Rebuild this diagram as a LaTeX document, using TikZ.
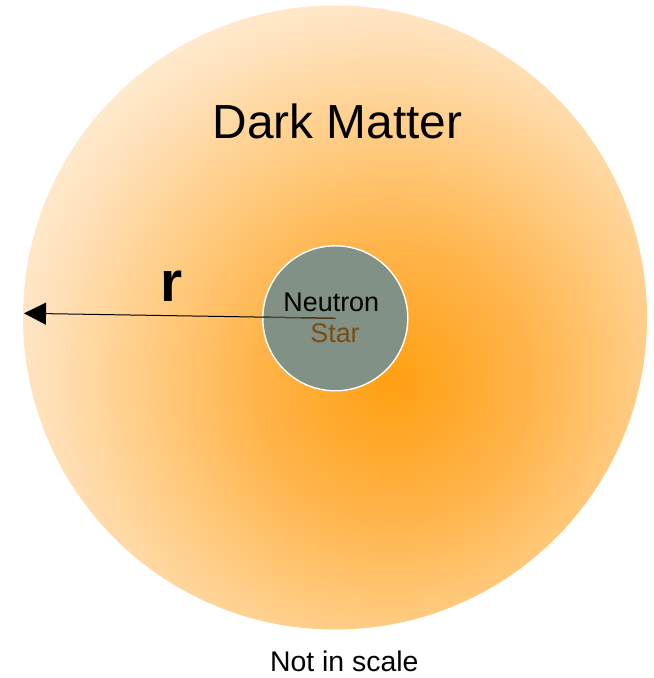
\documentclass[tikz,border=0pt]{standalone}
\usepackage{fontspec}
\setmainfont{Liberation Sans}
\usetikzlibrary{arrows.meta,calc}
\definecolor{gA}{RGB}{255,160,18}
\definecolor{gB}{RGB}{255,180,74}
\definecolor{gC}{RGB}{255,202,126}
\definecolor{gD}{RGB}{255,227,191}
\definecolor{gE}{RGB}{255,234,206}
\definecolor{nsgray}{RGB}{129,145,134}
\definecolor{starbrown}{RGB}{122,76,18}
\definecolor{linebrown}{RGB}{100,62,20}
\pgfdeclareradialshading{dmshade}{\pgfpointorigin}{color(0bp)=(gA); color(8.5bp)=(gB); color(14.7bp)=(gC); color(22.5bp)=(gD); color(25bp)=(gE); color(50bp)=(gE)}
\tikzset{
  lbl/.style={anchor=base, inner sep=0pt, text=black},
  starcircle/.style={circle, fill=nsgray, draw=white, line width=1.4bp, minimum size=145bp, inner sep=0pt},
  radius line/.style={line width=1bp, -{Triangle[length=22bp,width=22bp]}},
}
\begin{document}
\begin{tikzpicture}[x=1bp,y=1bp]
\useasboundingbox (0,0) rectangle (654,678);
\begin{scope}
  \clip (335,360.5) circle (312bp);
  \shade[shading=dmshade] (392,296) circle (400bp);
\end{scope}
\node[lbl, font=\fontsize{48}{56}\selectfont] (dmlabel) at (337.5,539) {Dark Matter};
\node[starcircle] (ns) at (335.3,359.7) {};
\coordinate (tip) at (24,364.7);
\draw[radius line] (ns.center) -- (tip);
\draw[line width=1bp, linebrown] (ns.center) -- ($(ns.center)!0.235!(tip)$);
\node[lbl, font=\fontsize{27}{31}\selectfont] (neutron) at (331.3,366.3) {Neutron};
\node[lbl, font=\fontsize{27}{31}\selectfont, text=starbrown] (star) at (335,335) {Star};
\node[lbl, font=\bfseries\fontsize{57}{60}\selectfont] (r) at (172,376) {r};
\node[lbl, font=\fontsize{28.5}{32}\selectfont] (note) at (344.3,6.5) {Not in scale};
\end{tikzpicture}
\end{document}
